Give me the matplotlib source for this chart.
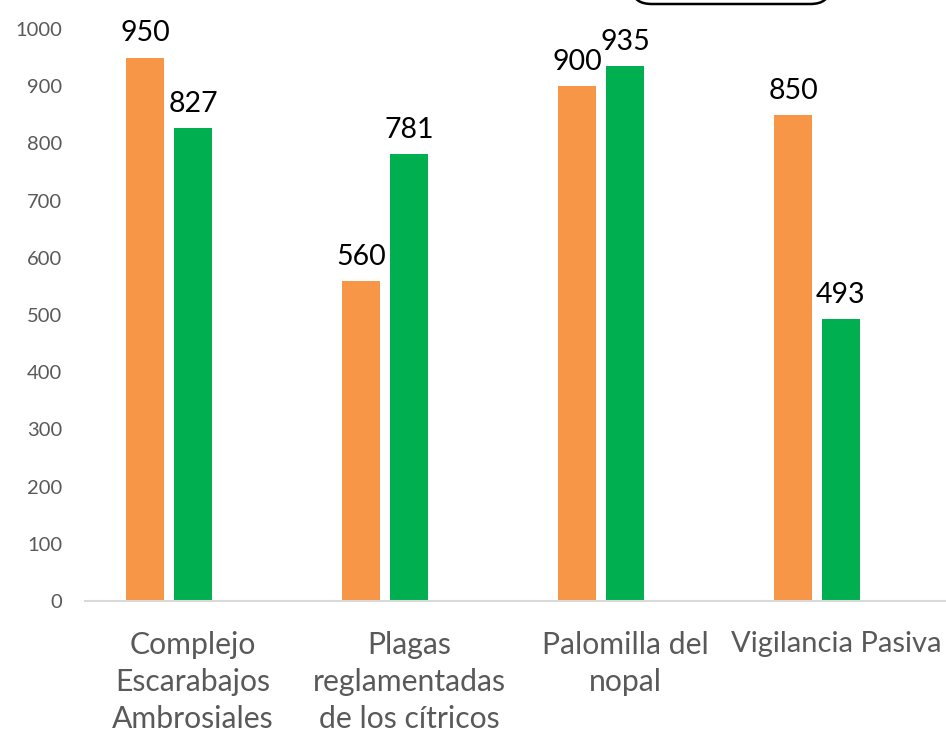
import matplotlib.pyplot as plt
import matplotlib.transforms as mtransforms
from matplotlib.patches import FancyBboxPatch
import numpy as np

categories = ["Complejo\nEscarabajos\nAmbrosiales", "Plagas\nreglamentadas\nde los cítricos",
              "Palomilla del\nnopal", "Vigilancia Pasiva"]
serie_naranja = [950, 560, 900, 850]
serie_verde = [827, 781, 935, 493]

plt.rcParams['font.family'] = ['Lato', 'DejaVu Sans']

fig = plt.figure(figsize=(9.46, 7.35), dpi=100)
ax = fig.add_axes([85 / 946, 134 / 735, 861 / 946, 572 / 735])

x = np.arange(len(categories))
w = 0.176
off = 0.111
b1 = ax.bar(x - off, serie_naranja, w, color="#F79646")
b2 = ax.bar(x + off, serie_verde, w, color="#00B050")

for bars, vals in [(b1, serie_naranja), (b2, serie_verde)]:
    for b, v in zip(bars, vals):
        ax.annotate(str(v), (b.get_x() + b.get_width() / 2, v), xytext=(0, 8),
                    textcoords="offset points", ha="center", va="bottom",
                    fontsize=20.5, color="black", annotation_clip=False)

ax.set_xlim(-84 / 216, 3 + 129 / 216)
ax.set_ylim(0, 1000)
ax.set_yticks(range(0, 1001, 100))
# las etiquetas de categoría aparecen desplazadas hacia la derecha
ax.set_xticks(x + off)
ax.set_xticklabels(categories, fontsize=21.7, color="#595959", linespacing=1.4)
ax.tick_params(axis="y", length=0, labelsize=14.5, labelcolor="#595959", pad=16.5)
ax.tick_params(axis="x", length=0, pad=21.5)
for s in ["top", "right", "left"]:
    ax.spines[s].set_visible(False)
ax.spines["bottom"].set_color("#D9D9D9")
ax.spines["bottom"].set_linewidth(1.5)

# la última etiqueta queda pegada al borde derecho
last = ax.get_xticklabels()[-1]
last.set_fontsize(21)
last.set_transform(last.get_transform() +
                   mtransforms.ScaledTranslation(-5 / 100, 0, fig.dpi_scale_trans))

# recuadro cortado arriba (leyenda fuera del área)
box = FancyBboxPatch((633 / 946, 1 - 4 / 735), 196 / 946, 0.2,
                     boxstyle="round,pad=0.0,rounding_size=0.02",
                     transform=fig.transFigure, facecolor="white",
                     edgecolor="black", linewidth=1.8, clip_on=False)
fig.patches.append(box)

fig.savefig("out.png", dpi=100)
